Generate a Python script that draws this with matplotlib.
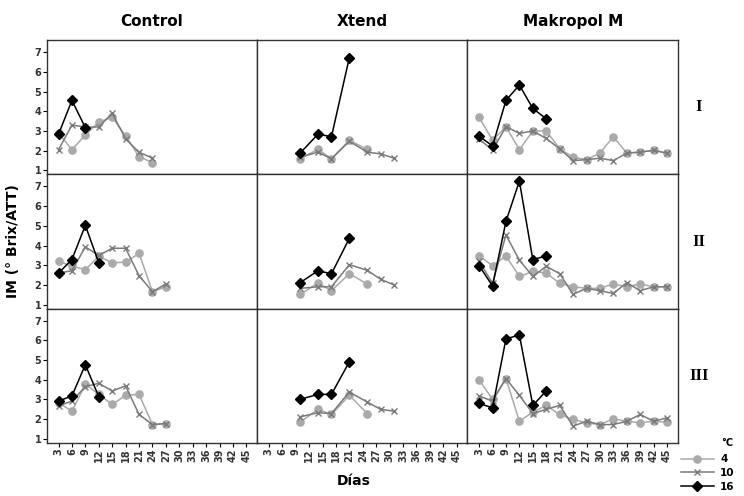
import matplotlib
matplotlib.use("Agg")
import matplotlib.pyplot as plt
from matplotlib.lines import Line2D

columns = ["Control", "Xtend", "Makropol M"]
rows = ["I", "II", "III"]
temps = ["4", "10", "16"]
x_ticks = [3, 6, 9, 12, 15, 18, 21, 24, 27, 30, 33, 36, 39, 42, 45]

days_control = [3, 6, 9, 12, 15, 18, 21, 24, 27]
days_xtend = [10, 14, 17, 21, 25, 28, 31]
days_makro = [3, 6, 9, 12, 15, 18, 21, 24, 27, 30, 33, 36, 39, 42, 45]

# Control
ctrl_I_4 = [2.9, 2.05, 2.8, 3.45, 3.7, 2.75, 1.7, 1.4]
ctrl_I_10 = [2.05, 3.3, 3.2, 3.2, 3.9, 2.6, 1.92, 1.63]
ctrl_I_16 = [2.83, 4.55, 3.17]
ctrl_II_4 = [3.2, 2.95, 2.78, 3.45, 3.12, 3.16, 3.6, 1.66, 1.91]
ctrl_II_10 = [2.6, 2.72, 3.93, 3.5, 3.86, 3.86, 2.47, 1.66, 2.05]
ctrl_II_16 = [2.6, 3.29, 5.02, 3.12]
ctrl_III_4 = [2.84, 2.41, 3.77, 3.26, 2.75, 3.21, 3.26, 1.73, 1.78]
ctrl_III_10 = [2.67, 2.92, 3.65, 3.82, 3.43, 3.69, 2.24, 1.73, 1.78]
ctrl_III_16 = [2.92, 3.18, 4.76, 3.14]

# Xtend
xt_I_4 = [1.6, 2.07, 1.59, 2.53, 2.07]
xt_I_10 = [1.67, 1.93, 1.59, 2.48, 1.93, 1.84, 1.62]
xt_I_16 = [1.88, 2.84, 2.71, 6.72]
xt_II_4 = [1.53, 2.09, 1.71, 2.57, 2.05]
xt_II_10 = [1.83, 1.91, 1.91, 3.03, 2.74, 2.29, 2.0]
xt_II_16 = [2.12, 2.72, 2.57, 4.36]
xt_III_4 = [1.85, 2.5, 2.24, 3.21, 2.29]
xt_III_10 = [2.12, 2.33, 2.29, 3.38, 2.87, 2.5, 2.41]
xt_III_16 = [3.01, 3.26, 3.26, 4.91]

# Makropol M
mk_I_4 = [3.69, 2.53, 3.22, 2.05, 3.0, 3.0, 2.1, 1.67, 1.55, 1.88, 2.71, 1.88, 1.93, 2.02, 1.88]
mk_I_10 = [2.6, 2.02, 3.22, 2.88, 3.0, 2.62, 2.1, 1.5, 1.55, 1.62, 1.5, 1.88, 1.93, 2.02, 1.88]
mk_I_16 = [2.74, 2.24, 4.55, 5.33, 4.14, 3.62]
mk_II_4 = [3.47, 2.98, 3.47, 2.43, 2.69, 2.6, 2.09, 1.91, 1.83, 1.83, 2.05, 1.91, 2.05, 1.91, 1.91]
mk_II_10 = [3.21, 2.09, 4.53, 3.26, 2.43, 2.95, 2.57, 1.53, 1.83, 1.71, 1.57, 2.12, 1.71, 1.91, 1.91]
mk_II_16 = [2.98, 1.95, 5.22, 7.26, 3.29, 3.47]
mk_III_4 = [3.99, 3.01, 4.06, 1.9, 2.36, 2.7, 2.24, 1.99, 1.82, 1.73, 2.02, 1.9, 1.82, 1.9, 1.85]
mk_III_10 = [3.18, 2.92, 4.06, 3.21, 2.29, 2.5, 2.7, 1.65, 1.9, 1.73, 1.73, 1.9, 2.24, 1.9, 2.07]
mk_III_16 = [2.8, 2.58, 6.07, 6.27, 2.7, 3.43]

data = {
    ("Control", "I"): (days_control, [ctrl_I_4, ctrl_I_10, ctrl_I_16]),
    ("Control", "II"): (days_control, [ctrl_II_4, ctrl_II_10, ctrl_II_16]),
    ("Control", "III"): (days_control, [ctrl_III_4, ctrl_III_10, ctrl_III_16]),
    ("Xtend", "I"): (days_xtend, [xt_I_4, xt_I_10, xt_I_16]),
    ("Xtend", "II"): (days_xtend, [xt_II_4, xt_II_10, xt_II_16]),
    ("Xtend", "III"): (days_xtend, [xt_III_4, xt_III_10, xt_III_16]),
    ("Makropol M", "I"): (days_makro, [mk_I_4, mk_I_10, mk_I_16]),
    ("Makropol M", "II"): (days_makro, [mk_II_4, mk_II_10, mk_II_16]),
    ("Makropol M", "III"): (days_makro, [mk_III_4, mk_III_10, mk_III_16]),
}

styles = [
    dict(color="#aaaaaa", marker="o", markersize=5.2, lw=1.1, mec="#aaaaaa"),
    dict(color="#7a7a7a", marker="x", markersize=4.2, lw=1.1, mew=1.0),
    dict(color="black", marker="D", markersize=4.6, lw=1.1),
]

fig = plt.figure(figsize=(7.44, 4.96), dpi=100)
gs = fig.add_gridspec(3, 3, left=0.063, right=0.911, top=0.919, bottom=0.107,
                      wspace=0, hspace=0)

for r, row in enumerate(rows):
    for c, col in enumerate(columns):
        ax = fig.add_subplot(gs[r, c])
        days, series = data[(col, row)]
        for s, st in zip(series, styles):
            ax.plot(days[:len(s)], s, **st, zorder=3)
        ax.set_xlim(0.4, 47.4)
        ax.set_ylim(0.8, 7.6)
        for sp in ax.spines.values():
            sp.set_linewidth(1.0)
            sp.set_color("#333333")
        ax.set_xticks(x_ticks)
        ax.set_yticks(range(1, 8))
        ax.tick_params(direction="out", length=3, width=0.8, pad=1)
        if c == 0:
            ax.set_yticklabels([str(v) for v in range(1, 8)], fontsize=7,
                               fontweight="bold", color="#333333")
        else:
            ax.tick_params(axis="y", left=False, labelleft=False)
        if r == 2:
            ax.set_xticklabels([str(v) for v in x_ticks], fontsize=7,
                               fontweight="bold", rotation=90, color="#333333")
        else:
            ax.tick_params(axis="x", bottom=False, labelbottom=False)
        if r == 0:
            ax.set_title(col, fontsize=11, fontweight="bold", pad=10)
        if c == 2:
            ax.text(1.1, 0.5, row, transform=ax.transAxes, ha="center",
                    va="center", fontsize=12, fontweight="bold",
                    family="Liberation Serif")

fig.text(0.476, 0.017, "Días", ha="center", va="bottom", fontsize=10,
         fontweight="bold")
fig.text(0.018, 0.513, "IM (° Brix/ATT)", ha="center", va="center",
         rotation=90, fontsize=10, fontweight="bold")

# legend
fig.text(0.985, 0.107, "°C", ha="right", va="center", fontsize=7,
         fontweight="bold")
handles = [Line2D([], [], **st) for st in styles]
leg = fig.legend(handles, temps, loc="lower right", bbox_to_anchor=(1.0, -0.01),
                 frameon=False, handlelength=3.2, markerfirst=True,
                 labelspacing=0.35, handletextpad=0.6,
                 prop=dict(weight="bold", size=7.5))

fig.savefig("out.png", dpi=100)
